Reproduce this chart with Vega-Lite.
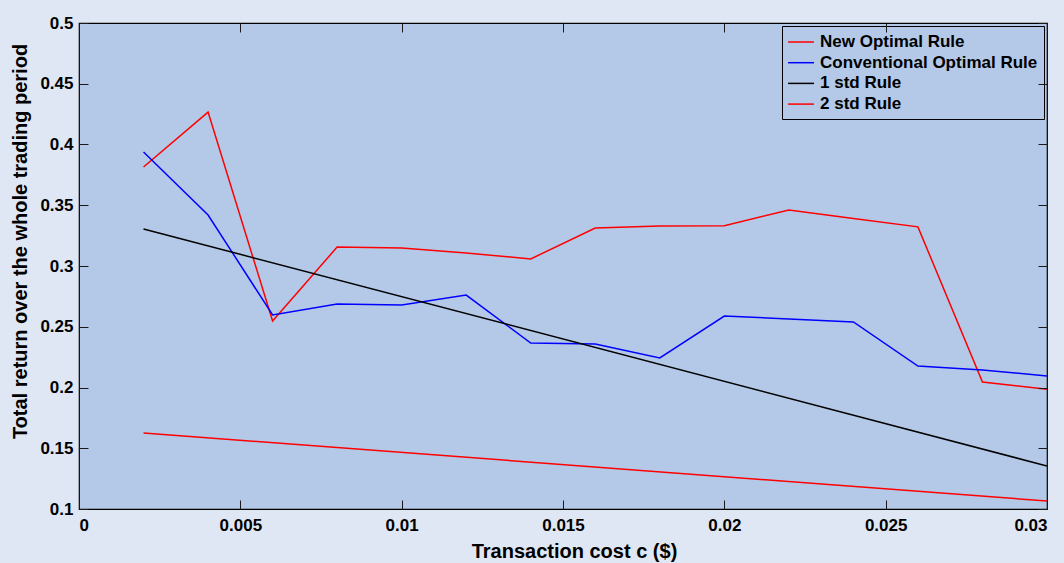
{
  "$schema": "https://vega.github.io/schema/vega-lite/v6.json",
  "width": 968,
  "height": 486,
  "autosize": {"type": "none"},
  "padding": {"left": 79, "top": 23, "right": 17, "bottom": 54},
  "background": "#e0e7f4",
  "config": {
    "font": "Liberation Sans",
    "view": {"fill": "#b4c9e8", "stroke": "#000000", "strokeWidth": 1.2},
    "axis": {
      "grid": false,
      "domain": false,
      "offset": -9,
      "ticks": true,
      "tickColor": "#1a1a1a",
      "tickSize": 9,
      "tickWidth": 1,
      "labelFont": "Liberation Sans",
      "labelFontWeight": "bold",
      "labelFontSize": 17,
      "labelColor": "#000000",
      "titleFont": "Liberation Sans",
      "titleFontWeight": "bold",
      "titleFontSize": 20,
      "titleColor": "#000000"
    },
    "legend": {
      "orient": "top-right",
      "offset": 3,
      "padding": 6,
      "fillColor": "#b4c9e8",
      "strokeColor": "#000000",
      "strokeWidth": 1,
      "symbolType": "M-1.1,0H1.78",
      "symbolSize": 324,
      "symbolStrokeWidth": 1.5,
      "labelFont": "Liberation Sans",
      "labelFontWeight": "bold",
      "labelFontSize": 17,
      "labelColor": "#000000",
      "labelLimit": 400,
      "labelOffset": 12,
      "rowPadding": 2.7,
      "title": null
    }
  },
  "data": {
    "values": [
      {"c": 0.002, "rule": "New Optimal Rule", "value": 0.3815},
      {"c": 0.004, "rule": "New Optimal Rule", "value": 0.4267},
      {"c": 0.006, "rule": "New Optimal Rule", "value": 0.2547},
      {"c": 0.008, "rule": "New Optimal Rule", "value": 0.3156},
      {"c": 0.010, "rule": "New Optimal Rule", "value": 0.3148},
      {"c": 0.012, "rule": "New Optimal Rule", "value": 0.3107},
      {"c": 0.014, "rule": "New Optimal Rule", "value": 0.3058},
      {"c": 0.016, "rule": "New Optimal Rule", "value": 0.3313},
      {"c": 0.018, "rule": "New Optimal Rule", "value": 0.3330},
      {"c": 0.020, "rule": "New Optimal Rule", "value": 0.3332},
      {"c": 0.022, "rule": "New Optimal Rule", "value": 0.3461},
      {"c": 0.024, "rule": "New Optimal Rule", "value": 0.3390},
      {"c": 0.026, "rule": "New Optimal Rule", "value": 0.3322},
      {"c": 0.028, "rule": "New Optimal Rule", "value": 0.2045},
      {"c": 0.030, "rule": "New Optimal Rule", "value": 0.1985},
      {"c": 0.002, "rule": "Conventional Optimal Rule", "value": 0.3938},
      {"c": 0.004, "rule": "Conventional Optimal Rule", "value": 0.3420},
      {"c": 0.006, "rule": "Conventional Optimal Rule", "value": 0.2597},
      {"c": 0.008, "rule": "Conventional Optimal Rule", "value": 0.2687},
      {"c": 0.010, "rule": "Conventional Optimal Rule", "value": 0.2680},
      {"c": 0.012, "rule": "Conventional Optimal Rule", "value": 0.2761},
      {"c": 0.014, "rule": "Conventional Optimal Rule", "value": 0.2366},
      {"c": 0.016, "rule": "Conventional Optimal Rule", "value": 0.2358},
      {"c": 0.018, "rule": "Conventional Optimal Rule", "value": 0.2243},
      {"c": 0.020, "rule": "Conventional Optimal Rule", "value": 0.2588},
      {"c": 0.022, "rule": "Conventional Optimal Rule", "value": 0.2564},
      {"c": 0.024, "rule": "Conventional Optimal Rule", "value": 0.2540},
      {"c": 0.026, "rule": "Conventional Optimal Rule", "value": 0.2177},
      {"c": 0.028, "rule": "Conventional Optimal Rule", "value": 0.2144},
      {"c": 0.030, "rule": "Conventional Optimal Rule", "value": 0.2095},
      {"c": 0.002, "rule": "1 std Rule", "value": 0.3305},
      {"c": 0.030, "rule": "1 std Rule", "value": 0.1354},
      {"c": 0.002, "rule": "2 std Rule", "value": 0.1625},
      {"c": 0.030, "rule": "2 std Rule", "value": 0.1066}
    ]
  },
  "encoding": {
    "x": {
      "field": "c",
      "type": "quantitative",
      "scale": {"domain": [0, 0.03], "nice": false, "zero": false}
    },
    "y": {
      "field": "value",
      "type": "quantitative",
      "scale": {"domain": [0.1, 0.5], "nice": false, "zero": false}
    }
  },
  "layer": [
    {
      "mark": {"type": "line", "strokeWidth": 1.5, "clip": true},
      "encoding": {
        "x": {
          "field": "c",
          "type": "quantitative",
          "axis": {
            "orient": "bottom",
            "zindex": 2,
            "values": [0, 0.005, 0.01, 0.015, 0.02, 0.025, 0.03],
            "format": ".3~f",
            "labelPadding": 8,
            "title": "Transaction cost c ($)",
            "titleX": 495,
            "titleY": 51,
            "titleBaseline": "middle",
            "titleAlign": "center"
          }
        },
        "y": {
          "field": "value",
          "type": "quantitative",
          "axis": {
            "orient": "left",
            "zindex": 2,
            "values": [0.1, 0.15, 0.2, 0.25, 0.3, 0.35, 0.4, 0.45, 0.5],
            "format": ".2~f",
            "labelPadding": 6,
            "title": "Total return over the whole trading period",
            "titleX": -68,
            "titleY": 218,
            "titleAngle": 270,
            "titleBaseline": "middle",
            "titleAlign": "center"
          }
        },
        "color": {
          "field": "rule",
          "type": "nominal",
          "sort": ["New Optimal Rule", "Conventional Optimal Rule", "1 std Rule", "2 std Rule"],
          "scale": {
            "domain": ["New Optimal Rule", "Conventional Optimal Rule", "1 std Rule", "2 std Rule"],
            "range": ["#ff0000", "#0000ff", "#000000", "#ff0000"]
          }
        }
      }
    },
    {
      "mark": {"type": "point", "opacity": 0},
      "encoding": {
        "x": {
          "field": "c",
          "type": "quantitative",
          "axis": {
            "orient": "top",
            "zindex": 2,
            "values": [0, 0.005, 0.01, 0.015, 0.02, 0.025, 0.03],
            "labels": false,
            "title": null
          }
        },
        "y": {
          "field": "value",
          "type": "quantitative",
          "axis": {
            "orient": "right",
            "zindex": 2,
            "values": [0.1, 0.15, 0.2, 0.25, 0.3, 0.35, 0.4, 0.45, 0.5],
            "labels": false,
            "title": null
          }
        }
      }
    }
  ],
  "resolve": {"axis": {"x": "independent", "y": "independent"}}
}
